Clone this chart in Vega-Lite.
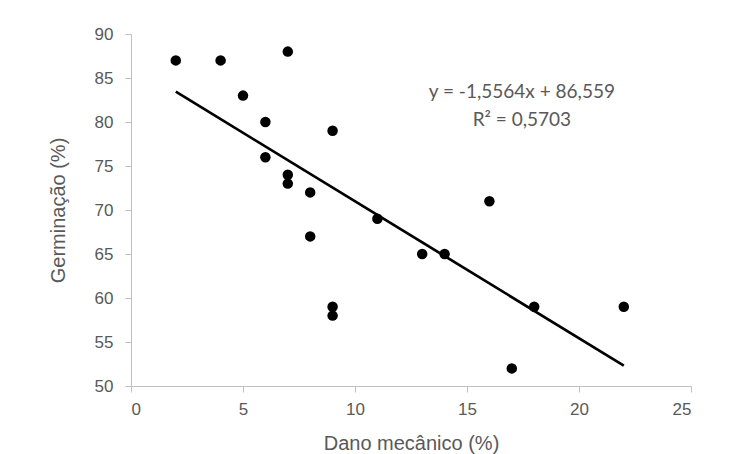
{
  "$schema": "https://vega.github.io/schema/vega-lite/v6.json",
  "width": 560,
  "height": 352,
  "autosize": {"type": "none"},
  "padding": {"left": 131, "top": 34, "right": 57, "bottom": 68},
  "background": "white",
  "config": {
    "view": {"stroke": null},
    "font": "Liberation Sans",
    "axis": {
      "grid": false,
      "domainColor": "#bfbfbf",
      "tickColor": "#bfbfbf",
      "labelColor": "#595959",
      "titleColor": "#595959",
      "labelFontSize": 17,
      "titleFontSize": 20,
      "titleFontWeight": "normal",
      "labelFont": "Liberation Sans",
      "titleFont": "Liberation Sans"
    }
  },
  "datasets": {
    "pts": [
      {"dano": 2, "germ": 87}, {"dano": 4, "germ": 87}, {"dano": 5, "germ": 83},
      {"dano": 6, "germ": 80}, {"dano": 6, "germ": 76}, {"dano": 7, "germ": 88},
      {"dano": 7, "germ": 74}, {"dano": 7, "germ": 73}, {"dano": 8, "germ": 72},
      {"dano": 8, "germ": 67}, {"dano": 9, "germ": 79}, {"dano": 9, "germ": 59},
      {"dano": 9, "germ": 58}, {"dano": 11, "germ": 69}, {"dano": 13, "germ": 65},
      {"dano": 14, "germ": 65}, {"dano": 16, "germ": 71}, {"dano": 17, "germ": 52},
      {"dano": 18, "germ": 59}, {"dano": 22, "germ": 59}
    ],
    "trend": [
      {"dano": 2, "germ": 83.446}, {"dano": 22, "germ": 52.318}
    ],
    "labels": [
      {"dano": 17.45, "germ": 83.4, "txt": "y = -1,5564x + 86,559"},
      {"dano": 17.45, "germ": 80.2, "txt": "R² = 0,5703"}
    ]
  },
  "layer": [
    {
      "data": {"name": "trend"},
      "mark": {"type": "line", "color": "black", "strokeWidth": 2.7},
      "encoding": {
        "x": {"field": "dano", "type": "quantitative", "scale": {"domain": [0, 25], "nice": false},
          "axis": {"title": "Dano mecânico (%)", "values": [0, 5, 10, 15, 20, 25], "tickSize": 6, "labelPadding": 9, "titlePadding": 16}},
        "y": {"field": "germ", "type": "quantitative", "scale": {"domain": [50, 90], "nice": false, "zero": false},
          "axis": {"title": "Germinação (%)", "values": [50, 55, 60, 65, 70, 75, 80, 85, 90], "tickSize": 6, "labelPadding": 12, "titlePadding": 26}}
      }
    },
    {
      "data": {"name": "pts"},
      "mark": {"type": "circle", "color": "black", "opacity": 1, "size": 110},
      "encoding": {
        "x": {"field": "dano", "type": "quantitative"},
        "y": {"field": "germ", "type": "quantitative"}
      }
    },
    {
      "data": {"name": "labels"},
      "mark": {"type": "text", "color": "#595959", "fontSize": 19, "font": "Lato", "align": "center", "baseline": "middle"},
      "encoding": {
        "x": {"field": "dano", "type": "quantitative"},
        "y": {"field": "germ", "type": "quantitative"},
        "text": {"field": "txt"}
      }
    }
  ]
}
